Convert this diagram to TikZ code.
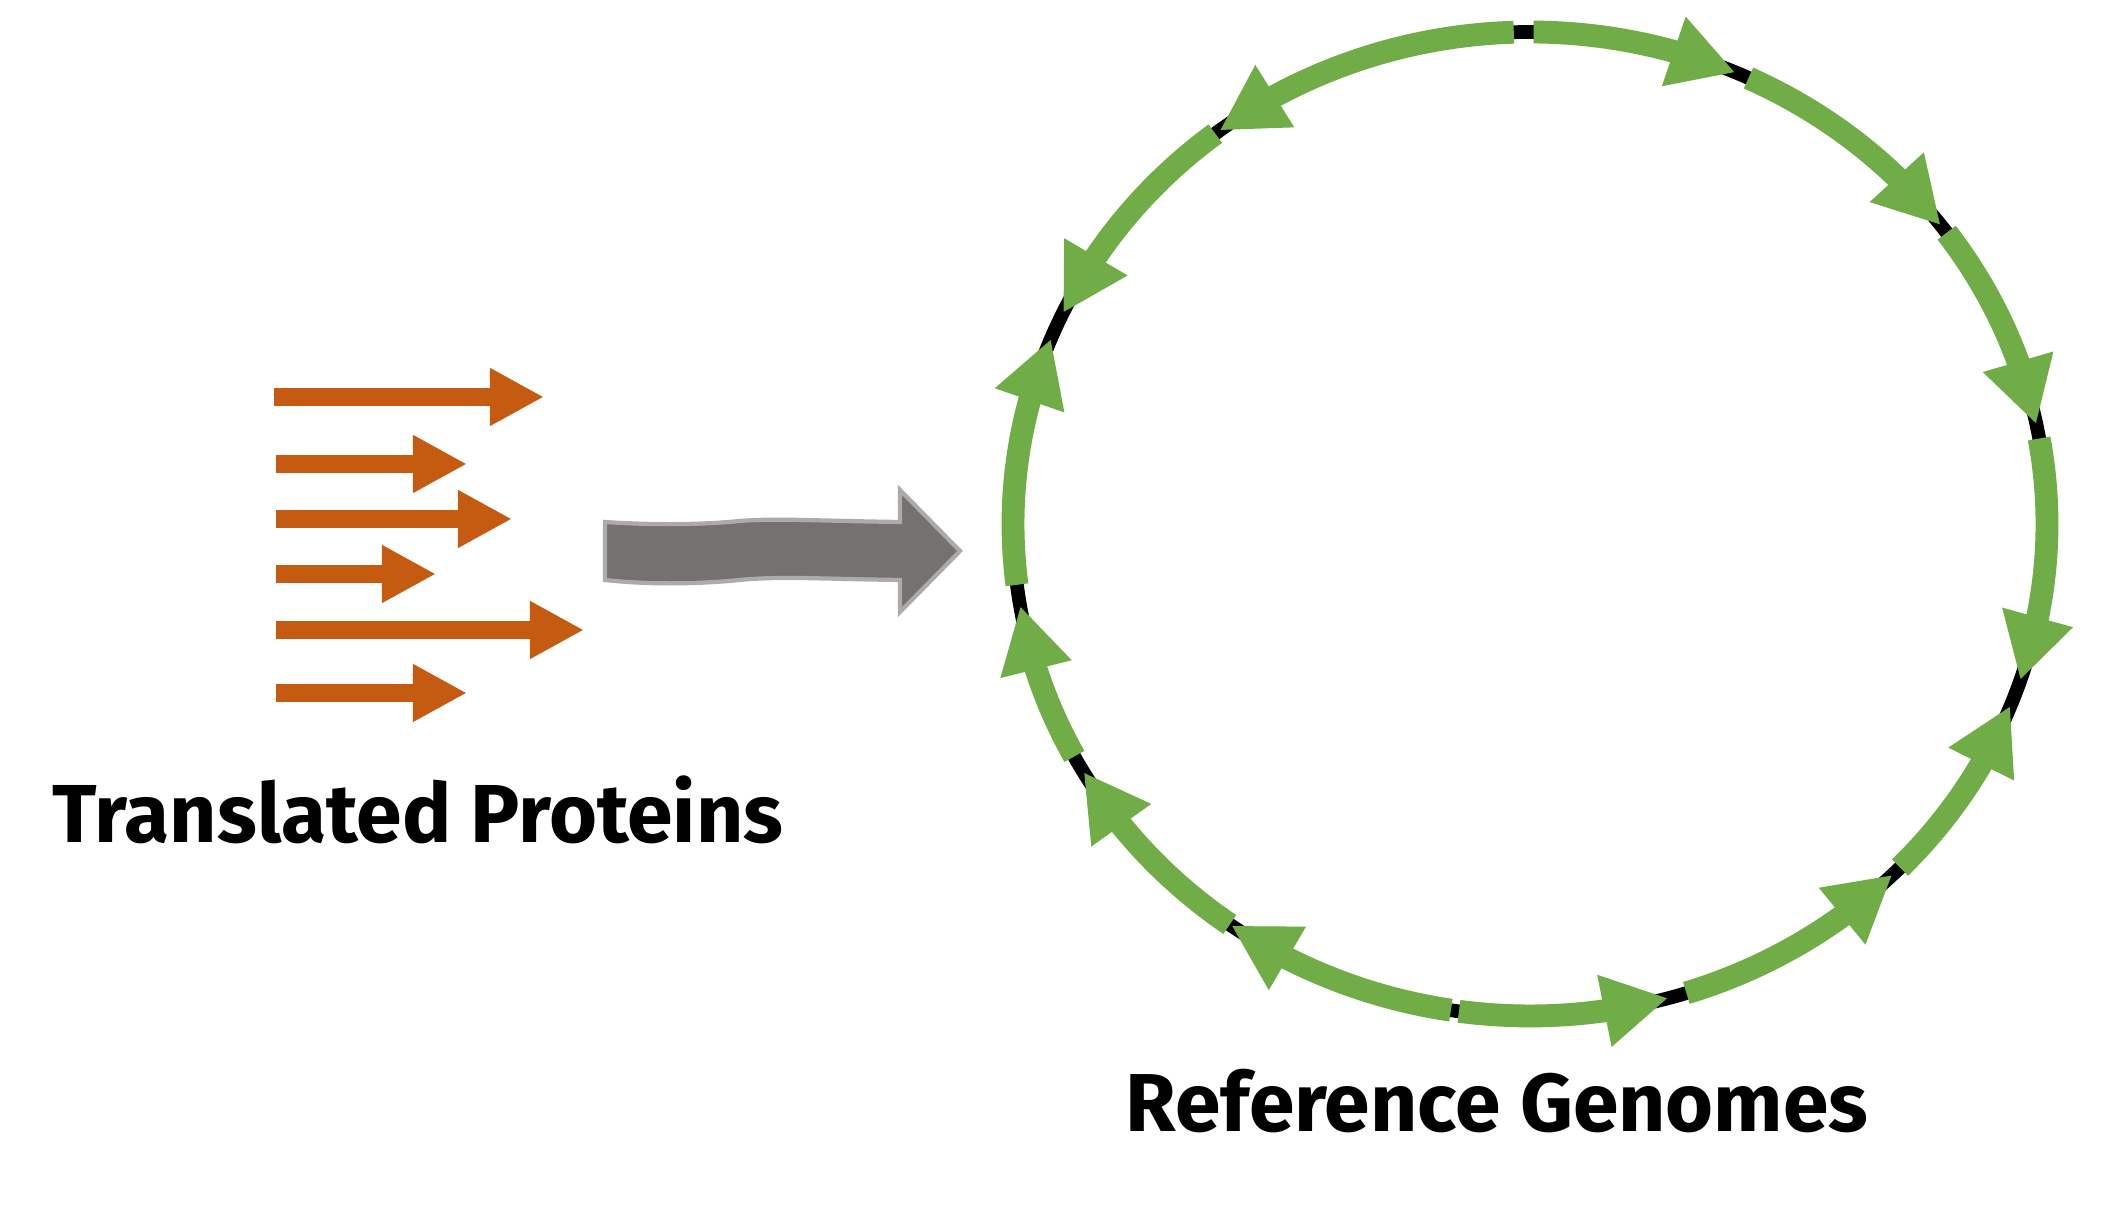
\documentclass[tikz,border=0pt]{standalone}
\usepackage{fontspec}
\setmainfont{Fira Sans}
\usetikzlibrary{arrows.meta,bending,calc}
\definecolor{orangeA}{HTML}{C55A11}
\definecolor{greenA}{HTML}{70AD47}
\definecolor{greyFill}{HTML}{767171}
\definecolor{greyLine}{HTML}{AEAAAA}
\begin{document}
\begin{tikzpicture}[x=0.01cm,y=0.01cm,
  protarrow/.style={draw=orangeA, line width=5.1pt, -{Triangle[length=15.4pt,width=15.4pt]}},
  genearc/.style={draw=greenA, line width=6.5pt, -{Triangle[length=18.5pt,width=19.5pt]}},
  genome/.style={draw=black, line width=3.9pt},
  bigarrow/.style={draw=greyLine, fill=greyFill, line width=1.2pt, line join=miter},
  lbl/.style={inner sep=0pt, font=\bfseries}]
\useasboundingbox (0,0) rectangle (2108,1219);

% translated proteins (orange arrows)
\draw[protarrow] (274,822) -- (544,822);
\draw[protarrow] (276,755) -- (467,755);
\draw[protarrow] (276,700) -- (512,700);
\draw[protarrow] (276,645) -- (436,645);
\draw[protarrow] (276,589) -- (584,589);
\draw[protarrow] (276,526) -- (467,526);

\node[lbl, anchor=base west] (tp) at (52,376) {\resizebox{7.30cm}{!}{Translated Proteins}};

% big grey arrow
\draw[bigarrow] (605,697) .. controls (650,694) and (700,694) .. (740,698)
  .. controls (775,701) and (820,698) .. (900,697) -- (900,729) -- (960,668)
  -- (900,607) -- (900,639) .. controls (820,640) and (780,643) .. (740,639)
  .. controls (700,635) and (650,634) .. (605,639) -- cycle;

% genome
\coordinate (C) at (1530,695);
\draw[genome] (C) ellipse [x radius=517, y radius=492];

\foreach \a/\b in {91.8/126.9, 89.6/66.6, 65.0/37.4, 36.3/11.7, 10.0/-18.5,
  -44.3/-21.7, -72.4/-45.5, -97.9/-74.5, -98.8/-125.3, -125.5/-149.7,
  -151.8/-170.4, -172.9/-202.1, 127.5/154.6}
  \draw[genearc] ($(C)+(\a:517 and 492)$) arc[start angle=\a, end angle=\b, x radius=517, y radius=492];

\node[lbl, anchor=base west] (rg) at (1125,87) {\resizebox{7.42cm}{!}{Reference Genomes}};
\end{tikzpicture}
\end{document}
